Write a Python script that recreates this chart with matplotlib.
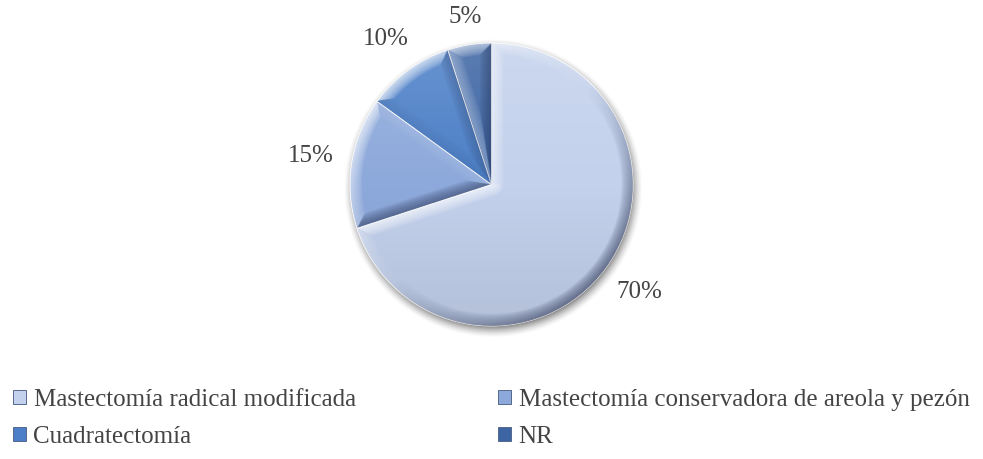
import numpy as np
import matplotlib
matplotlib.use("Agg")
import matplotlib.pyplot as plt

# --- data -------------------------------------------------------------------
labels = ["Mastectomía radical modificada",
          "Mastectomía conservadora de areola y pezón",
          "Cuadratectomía",
          "NR"]
shares = [70, 15, 10, 5]
slice_colors = ["#C3D1EC", "#8DA9DB", "#4C7FC7", "#3D65A4"]

# --- layout (1 data unit == 1 output pixel) ---------------------------------
W, H = 983, 459
CX, CY, R = 491.5, H - 184.5, 141.5
BEVEL = 12.0
LIGHT = np.array([-1.0, 1.0]) / np.sqrt(2)     # light from the top-left
TEXT = "#444444"
FS = 18

plt.rcParams["font.family"] = ["Liberation Serif", "DejaVu Serif"]

fig = plt.figure(figsize=(W / 100, H / 100), dpi=100)
ax = fig.add_axes([0, 0, 1, 1])

# grid covering the pie, half-pixel steps
xs = np.arange(CX - R - 24, CX + R + 24, 0.5)
ys = np.arange(CY - R - 24, CY + R + 24, 0.5)
X, Y = np.meshgrid(xs, ys)
ext = [xs[0], xs[-1], ys[0], ys[-1]]

# soft drop shadow, nudged down/right
rs = np.hypot(X - (CX + 1.5), Y - (CY - 4.0))
sh = np.zeros(X.shape + (4,))
sh[..., :3] = 0.22
sh[..., 3] = 0.7 * np.clip((R + 8 - rs) / 13, 0, 1) ** 1.5
ax.imshow(sh, extent=ext, origin="lower", interpolation="bilinear", zorder=0)

wedges, _ = ax.pie(shares, colors=slice_colors, startangle=90, counterclock=False,
                   center=(CX, CY), radius=R,
                   wedgeprops=dict(edgecolor="white", linewidth=0.6))
for w in wedges:
    w.set_zorder(1)


def bevel_overlay(t1, t2):
    """RGBA shading for a wedge spanning t1..t2 (deg, ccw): lit / shaded rim."""
    dx, dy = X - CX, Y - CY
    r = np.hypot(dx, dy) + 1e-9
    phi = np.degrees(np.arctan2(dy, dx))
    a1 = np.mod(phi - t1, 360)
    a2 = np.mod(t2 - phi, 360)
    d_arc = R - r
    d1 = np.where(a1 <= 90, r * np.sin(np.radians(a1)), r)
    d2 = np.where(a2 <= 90, r * np.sin(np.radians(a2)), r)

    s_arc = (dx * LIGHT[0] + dy * LIGHT[1]) / r
    n1 = np.radians(t1 - 90)
    n2 = np.radians(t2 + 90)
    s1 = np.cos(n1) * LIGHT[0] + np.sin(n1) * LIGHT[1]
    s2 = np.cos(n2) * LIGHT[0] + np.sin(n2) * LIGHT[1]

    dist = np.stack([d_arc, d1, d2])
    shade = np.stack([s_arc, np.full_like(r, s1), np.full_like(r, s2)])
    k = np.argmin(dist, axis=0)
    depth = np.take_along_axis(dist, k[None], 0)[0]
    s = np.take_along_axis(shade, k[None], 0)[0]
    f = np.clip(1 - depth / BEVEL, 0, 1) ** 0.7

    out = np.zeros(X.shape + (4,))
    lit = s > 0
    out[lit, :3] = 1.0
    out[~lit, :3] = (0.10, 0.14, 0.26)
    out[..., 3] = np.where(lit, 0.7 * s * f, 0.55 * (-s) * f)
    return out


# gentle top-to-bottom light falloff across the faces
g = (Y - CY) / R
face = np.zeros(X.shape + (4,))
face[..., :3] = np.where(g[..., None] > 0, 1.0, 0.15)
face[..., 3] = np.where(g > 0, 0.16 * g, 0.10 * (-g))

for w in wedges:
    im_f = ax.imshow(face, extent=ext, origin="lower", interpolation="bilinear", zorder=2)
    im_f.set_clip_path(w)
    im_b = ax.imshow(bevel_overlay(w.theta1, w.theta2), extent=ext, origin="lower",
                     interpolation="bilinear", zorder=3)
    im_b.set_clip_path(w)

ax.set_xlim(0, W)
ax.set_ylim(0, H)
ax.set_aspect("equal")
ax.axis("off")

# percentage labels just outside each slice
renderer = fig.canvas.get_renderer()
for w, v in zip(wedges, shares):
    mid = np.radians((w.theta1 + w.theta2) / 2)
    t = ax.text(0, 0, f"{v}%", fontsize=FS, color=TEXT, ha="center", va="center", zorder=5)
    bb = t.get_window_extent(renderer)
    rc = R * 1.12 + 0.5 * (bb.width * abs(np.cos(mid)) + 18 * abs(np.sin(mid)))
    t.set_position((CX + rc * np.cos(mid), CY + rc * np.sin(mid)))

# legend: two columns, row-wise order
order = [0, 2, 1, 3]
leg = ax.legend([wedges[i] for i in order], [labels[i] for i in order], ncol=2,
                loc="upper left", bbox_to_anchor=(13, H - 389), bbox_transform=ax.transData,
                frameon=False, fontsize=FS, labelcolor=TEXT,
                handlelength=0.5, handleheight=0.5, handletextpad=0.32,
                columnspacing=5.7, labelspacing=0.6, borderpad=0, borderaxespad=0)
for h in leg.legend_handles:
    h.set_edgecolor("#56698c")
    h.set_linewidth(0.7)

fig.savefig("out.png", dpi=100)
